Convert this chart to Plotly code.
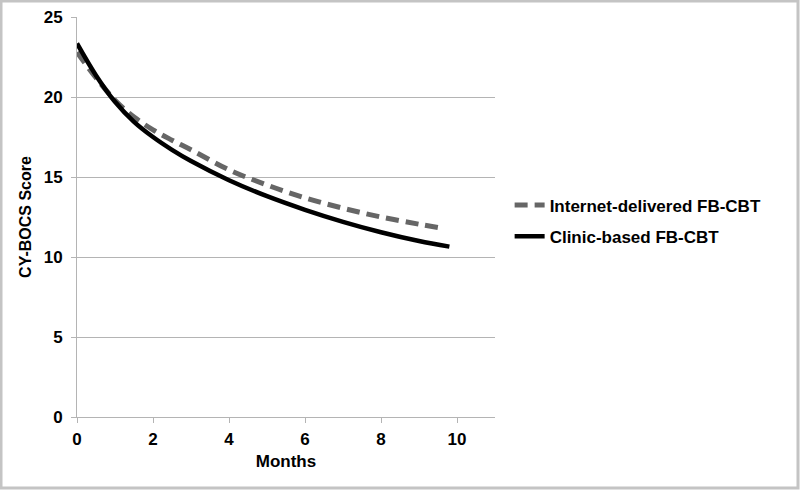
import plotly.graph_objects as go

# Data
months_internet = [0, 0.5, 1, 1.5, 2, 2.5, 3, 4, 5, 6, 7, 8, 9, 9.6]
score_internet = [22.8, 21.2, 19.8, 18.75, 17.95, 17.3, 16.7, 15.45, 14.5, 13.7, 13.05, 12.5, 12.05, 11.8]

months_clinic = [0, 0.5, 1, 1.5, 2, 2.5, 3, 4, 5, 6, 7, 8, 9, 9.8]
score_clinic = [23.35, 21.35, 19.7, 18.45, 17.5, 16.7, 16.0, 14.8, 13.8, 12.95, 12.2, 11.55, 11.0, 10.65]

x_ticks = [0, 2, 4, 6, 8, 10]
y_ticks = [0, 5, 10, 15, 20, 25]

FONT = "Liberation Sans, Arial, sans-serif"
GRID = "#b4b4b4"

fig = go.Figure()
fig.add_trace(go.Scatter(
    x=months_internet, y=score_internet, mode="lines", line_shape="spline",
    name="<b>Internet-delivered FB-CBT</b>", legendgroup="a",
    line=dict(color="#666666", width=5, dash="13px,7px"),
))
fig.add_trace(go.Scatter(
    x=months_clinic, y=score_clinic, mode="lines", line_shape="spline",
    name="<b>Clinic-based FB-CBT</b>", legendgroup="b",
    line=dict(color="#000000", width=4.5),
))

fig.update_layout(
    width=800, height=490,
    paper_bgcolor="white", plot_bgcolor="white",
    margin=dict(l=77, r=305, t=17, b=73, autoexpand=False),
    font=dict(family=FONT, size=17, color="#000"),
    showlegend=True,
    legend=dict(x=1.035, y=0.49, xanchor="left", yanchor="middle",
                font=dict(family=FONT, size=17, color="#000"),
                tracegroupgap=6, bgcolor="rgba(0,0,0,0)"),
    xaxis=dict(
        range=[0, 11], tickvals=x_ticks, ticktext=[f"<b>{v}</b>" for v in x_ticks],
        showgrid=False, zeroline=False, showline=True, linecolor=GRID, linewidth=1,
        ticks="outside", ticklen=5, tickcolor=GRID, automargin=False,
        ticklabelstandoff=2,
        tickfont=dict(family=FONT, size=17, color="#000"),
        title=dict(text="<b>Months</b>", font=dict(family=FONT, size=17, color="#000"), standoff=6),
    ),
    yaxis=dict(
        range=[0, 25], tickvals=y_ticks, ticktext=[f"<b>{v}</b>" for v in y_ticks],
        showgrid=True, gridcolor=GRID, gridwidth=1, zeroline=False,
        showline=True, linecolor=GRID, linewidth=1,
        ticks="outside", ticklen=5, tickcolor=GRID, automargin=False,
        ticklabelstandoff=5,
        tickfont=dict(family=FONT, size=17, color="#000"),
        title=dict(text="<b>CY-BOCS Score</b>", font=dict(family=FONT, size=16, color="#000"), standoff=8),
    ),
)

# outer frame
fig.add_shape(type="rect", xref="paper", yref="paper",
              x0=-76/418, x1=1 + 303/418, y0=-71/400, y1=1 + 16/400,
              line=dict(color="#c4c4c4", width=3), layer="below")

fig.write_html("out.html", config={"displayModeBar": False},
               post_script="document.body.style.margin='0';")
